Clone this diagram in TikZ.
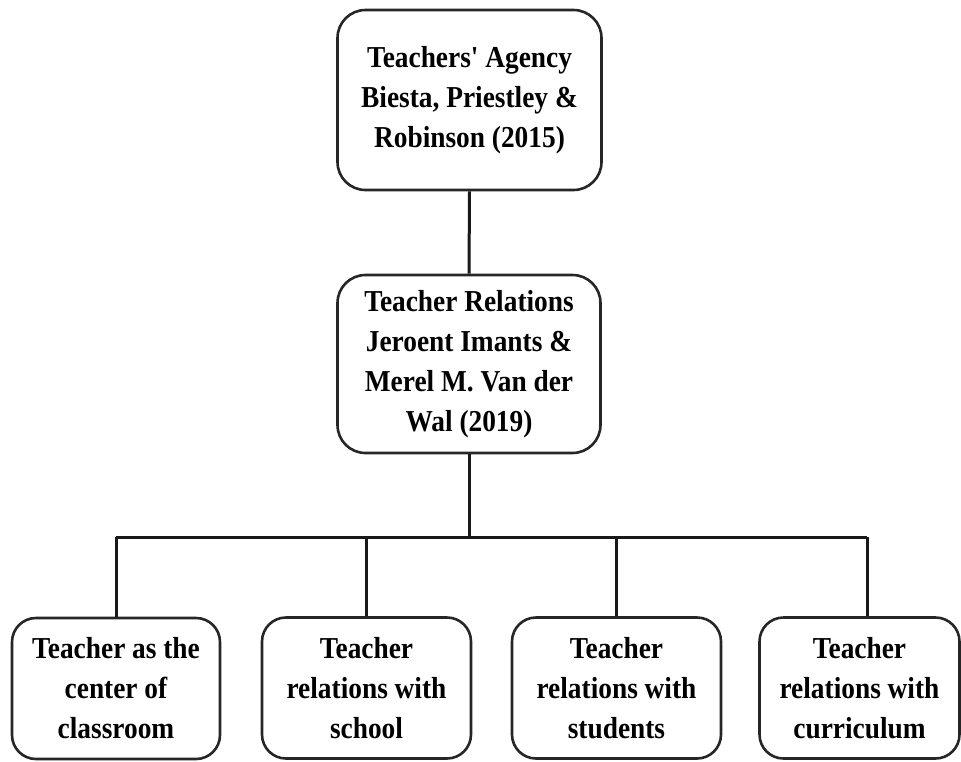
\documentclass[tikz,border=0pt]{standalone}
\usepackage{fontspec}
\setmainfont{Liberation Serif}[FakeStretch=0.9, Ligatures=TeXOff]
\begin{document}
\begin{tikzpicture}[x=1pt,y=-1pt,
  box/.style={draw=black!85, line width=2.6pt, rounded corners=28pt, align=center,
    inner sep=0pt, font=\bfseries\fontsize{30.4}{40}\selectfont},
  small/.style={box, rounded corners=24pt},
  link/.style={draw=black!90, line width=3pt}]
\useasboundingbox (0,0) rectangle (961,761);
\node[box, minimum width=264, minimum height=180] (top) at (469.5,100)
  {Teachers' Agency\\Biesta, Priestley \&\\Robinson (2015)};
\node[box, minimum width=263, minimum height=178] (mid) at (469,364)
  {Teacher Relations\\Jeroent Imants \&\\Merel M. Van der\\Wal (2019)};
\node[small, minimum width=208, minimum height=141] (b1) at (116,688.5)
  {Teacher as the\\center of\\classroom};
\node[small, minimum width=209, minimum height=141] (b2) at (366.5,688)
  {Teacher\\relations with\\school};
\node[small, minimum width=209, minimum height=141] (b3) at (616.5,688)
  {Teacher\\relations with\\students};
\node[small, minimum width=200, minimum height=141] (b4) at (859.5,688)
  {Teacher\\relations with\\curriculum};
\coordinate (bar) at (471,537);
\coordinate (barL) at (116,537);
\coordinate (barR) at (867,537);
\draw[link] (top.south) -- (mid.north);
\draw[link] (mid.south) -- (mid.south |- bar);
\draw[link] (barL) -- (barR);
\draw[link] (barL) -- (b1.north);
\draw[link] (b2.north |- bar) -- (b2.north);
\draw[link] (b3.north |- bar) -- (b3.north);
\draw[link] (barR) -- (barR |- b4.north);
\end{tikzpicture}
\end{document}
